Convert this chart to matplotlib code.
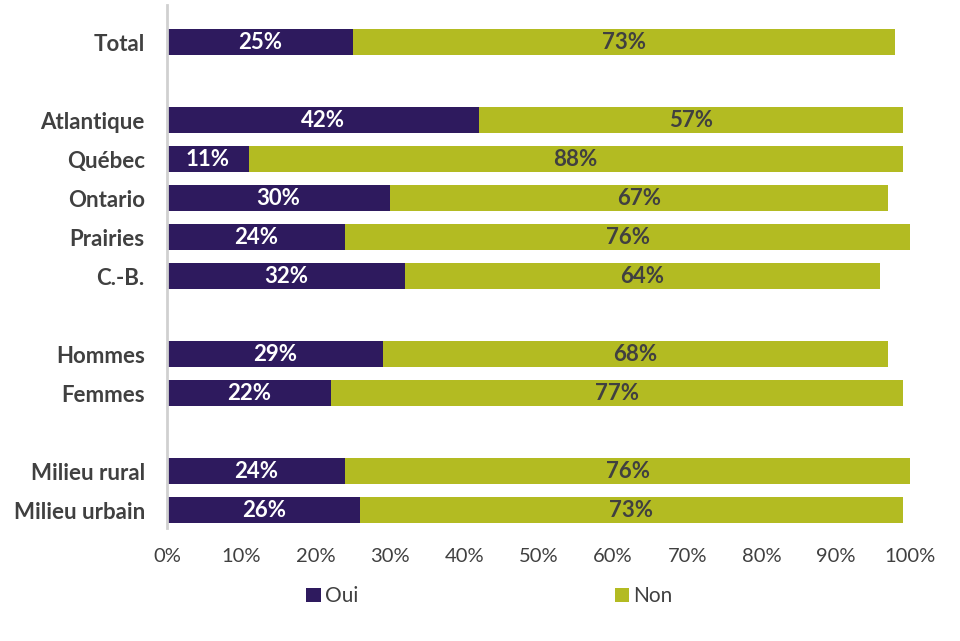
import numpy as np
import matplotlib.pyplot as plt

plt.rcParams['font.family'] = ['Lato', 'DejaVu Sans']

categories = ['Total', 'Atlantique', 'Québec', 'Ontario', 'Prairies', 'C.-B.',
              'Hommes', 'Femmes', 'Milieu rural', 'Milieu urbain']
slots = [0, 2, 3, 4, 5, 6, 8, 9, 11, 12]  # blank rows between groups
oui = [25, 42, 11, 30, 24, 32, 29, 22, 24, 26]
non = [73, 57, 88, 67, 76, 64, 68, 77, 76, 73]

PURPLE = '#2e1a5e'
GREEN = '#b3bb22'
TEXT = '#404040'

fig = plt.figure(figsize=(9.6, 6.41), dpi=100)
ax = fig.add_axes([0.174, 0.176, 0.774, 0.816])

y = np.array(slots)
oui = np.array(oui)
non = np.array(non)

b1 = ax.barh(y, oui, height=0.66, color=PURPLE, label='Oui')
b2 = ax.barh(y, non, left=oui, height=0.66, color=GREEN, label='Non')

for yi, o, n in zip(y, oui, non):
    ax.text(o / 2, yi, f'{o}%', ha='center', va='center', color='white',
            fontsize=16, fontweight='bold')
    ax.text(o + n / 2, yi, f'{n}%', ha='center', va='center', color=TEXT,
            fontsize=16, fontweight='bold')

ax.set_xlim(0, 100)
ax.set_ylim(12.46, -0.95)
ax.set_yticks(y)
ax.set_yticklabels(categories, fontsize=16, fontweight='bold', color=TEXT)
ax.set_xticks(np.arange(0, 101, 10))
ax.set_xticklabels([f'{v}%' for v in range(0, 101, 10)], fontsize=14.5, color=TEXT)
ax.tick_params(axis='both', length=0)
ax.tick_params(axis='x', pad=14)
ax.tick_params(axis='y', pad=16)

for side in ['top', 'right', 'bottom']:
    ax.spines[side].set_visible(False)
ax.spines['left'].set_color('#d0d0d0')
ax.spines['left'].set_linewidth(2)

leg = fig.legend(handles=[b1, b2], loc='center', bbox_to_anchor=(0.51, 0.07),
                 ncol=2, frameon=False, fontsize=15, handlelength=0.7,
                 handleheight=0.7, handletextpad=0.2, columnspacing=12.3)
for t in leg.get_texts():
    t.set_color(TEXT)

fig.savefig('out.png', dpi=100)
